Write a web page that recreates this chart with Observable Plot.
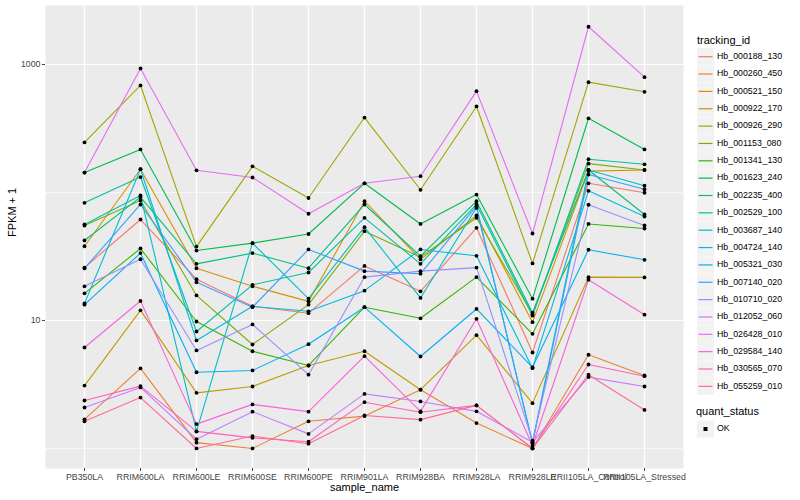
<!DOCTYPE html>
<html>
<head>
<meta charset="utf-8">
<script src="https://cdn.jsdelivr.net/npm/d3@7"></script>
<script src="https://cdn.jsdelivr.net/npm/@observablehq/plot@0.6"></script>
<style>
  body { margin: 0; background: #ffffff; font-family: "Liberation Sans", Arial, Helvetica, sans-serif; }
  #wrap { position: relative; width: 800px; height: 500px; overflow: hidden; }
  #legend { position: absolute; left: 0; top: 0; }
</style>
</head>
<body>
<div id="wrap"><div id="chart"></div><svg id="legend" width="800" height="500"></svg></div>
<script>
// ---- data ----
const samples = ["PB350LA", "RRIM600LA", "RRIM600LE", "RRIM600SE", "RRIM600PE", "RRIM901LA",
  "RRIM928BA", "RRIM928LA", "RRIM928LE", "RRII105LA_Control", "RRII105LA_Stressed"];

const trackingIds = ["Hb_000188_130", "Hb_000260_450", "Hb_000521_150", "Hb_000922_170", "Hb_000926_290",
  "Hb_001153_080", "Hb_001341_130", "Hb_001623_240", "Hb_002235_400", "Hb_002529_100",
  "Hb_003687_140", "Hb_004724_140", "Hb_005321_030", "Hb_007140_020", "Hb_010710_020",
  "Hb_012052_060", "Hb_026428_010", "Hb_029584_140", "Hb_030565_070", "Hb_055259_010"];

const hueColors = ["#F8766D", "#EA8331", "#D89000", "#C09B00", "#A3A500", "#7CAE00", "#39B600", "#00BB4E",
  "#00BF7D", "#00C1A3", "#00BFC4", "#00BAE0", "#00B0F6", "#35A2FF", "#9590FF", "#C77CFF",
  "#E76BF3", "#FA62DB", "#FF62BC", "#FF6C91"];

// FPKM + 1 per sample (same order as samples)
const Hb_000188_130 = [25.9, 61.5, 21.0, 12.9, 11.4, 26.7, 16.9, 53.0, 5.62, 118, 99.5];
const Hb_000260_450 = [1.69, 4.22, 1.11, 1.00, 1.63, 1.79, 2.88, 1.58, 1.00, 5.40, 3.72];
const Hb_000521_150 = [38.0, 152, 25.6, 18.5, 14.1, 85.5, 30.0, 66.1, 9.7, 147, 150];
const Hb_000922_170 = [3.10, 12.0, 2.72, 3.05, 4.45, 5.75, 2.88, 7.68, 2.26, 21.8, 21.7];
const Hb_000926_290 = [246, 686, 37.8, 160, 90.6, 385, 105, 470, 27.9, 728, 612];
const Hb_001153_080 = [55.2, 86.6, 15.7, 6.49, 13.3, 49.9, 31.3, 63.4, 11.2, 168, 150];
const Hb_001341_130 = [16.3, 36.5, 9.82, 5.75, 4.45, 12.7, 10.4, 21.8, 7.87, 56.8, 52.3];
const Hb_001623_240 = [143, 217, 35.2, 40.2, 47.4, 118, 56.8, 96.4, 14.8, 380, 217];
const Hb_002235_400 = [42.2, 91.9, 27.7, 33.6, 25.6, 80.6, 31.8, 85.5, 11.5, 150, 67.3];
const Hb_002529_100 = [83.1, 132, 8.20, 19.0, 23.7, 63.4, 27.7, 80.6, 10.9, 182, 166];
const Hb_003687_140 = [56.2, 94.8, 1.36, 40.2, 14.8, 53.6, 15.0, 75.9, 1.11, 150, 113];
const Hb_004724_140 = [13.6, 152, 6.98, 12.9, 11.8, 17.1, 35.9, 32.0, 4.24, 103, 64.9];
const Hb_005321_030 = [13.3, 33.6, 3.94, 4.07, 6.53, 12.7, 5.23, 12.3, 4.31, 35.7, 29.8];
const Hb_007140_020 = [25.5, 80.6, 19.9, 12.7, 35.9, 24.3, 23.2, 78.2, 1.09, 138, 106];
const Hb_010710_020 = [18.5, 30.1, 5.83, 9.31, 3.77, 21.8, 24.3, 25.9, 1.15, 80.2, 55.2];
const Hb_012052_060 = [2.09, 3.00, 1.18, 1.94, 1.30, 2.67, 2.33, 1.95, 1.12, 3.61, 3.05];
const Hb_026428_010 = [143, 931, 149, 131, 68.2, 118, 134, 619, 47.8, 1972, 796];
const Hb_029584_140 = [6.15, 14.2, 1.55, 2.21, 1.94, 5.26, 1.95, 10.3, 1.05, 20.8, 11.1];
const Hb_030565_070 = [2.37, 3.07, 1.36, 1.21, 1.13, 2.30, 1.92, 2.17, 1.00, 4.53, 3.67];
const Hb_055259_010 = [1.63, 2.50, 1.00, 1.25, 1.09, 1.81, 1.68, 2.17, 1.00, 3.77, 2.00];

const seriesValues = [Hb_000188_130, Hb_000260_450, Hb_000521_150, Hb_000922_170, Hb_000926_290,
  Hb_001153_080, Hb_001341_130, Hb_001623_240, Hb_002235_400, Hb_002529_100,
  Hb_003687_140, Hb_004724_140, Hb_005321_030, Hb_007140_020, Hb_010710_020,
  Hb_012052_060, Hb_026428_010, Hb_029584_140, Hb_030565_070, Hb_055259_010];

const majorBreaks = [10, 1000];
const minorBreaks = [1, 100];
const quantStatus = ["OK"];

// ---- table ----
const rows = trackingIds.flatMap((id, i) =>
  seriesValues[i].map((v, j) => ({ id, sample: samples[j], value: v, status: quantStatus[0] })));

const FONT = "Liberation Sans, Arial, Helvetica, sans-serif";

const chart = Plot.plot({
  width: 800,
  height: 500,
  marginLeft: 45,
  marginRight: 117,
  marginTop: 5,
  marginBottom: 32,
  style: { fontFamily: FONT, background: "transparent", overflow: "visible" },
  x: { type: "point", domain: samples, padding: 0.6, label: null },
  y: { type: "log", domain: [Math.pow(10, -0.1565), Math.pow(10, 3.461)], label: null },
  color: { domain: trackingIds, range: hueColors },
  marks: [
    Plot.frame({ fill: "#EBEBEB", stroke: "none" }),
    Plot.ruleY(minorBreaks, { stroke: "#ffffff", strokeWidth: 0.6 }),
    Plot.ruleY(majorBreaks, { stroke: "#ffffff", strokeWidth: 1.2 }),
    Plot.gridX({ stroke: "#ffffff", strokeOpacity: 1, strokeWidth: 1.2 }),
    Plot.line(rows, { x: "sample", y: "value", z: "id", stroke: "id", strokeWidth: 1.1 }),
    Plot.dot(rows, { x: "sample", y: "value", fill: "#000000", stroke: "none", r: 1.9 }),
    Plot.axisY({ ticks: majorBreaks, tickFormat: d => String(d), tickSize: 3, tickPadding: 2,
      fontSize: 8.8, color: "#444444", label: null }),
    Plot.axisX({ tickSize: 3, tickPadding: 2, fontSize: 8.8, color: "#444444", label: null }),
    Plot.text(["FPKM + 1"], { frameAnchor: "left", dx: -33, rotate: -90, text: d => d,
      fontSize: 11, fill: "#000000" }),
    Plot.text(["sample_name"], { frameAnchor: "bottom", dy: 22, text: d => d,
      fontSize: 11, fill: "#000000" })
  ]
});
document.getElementById("chart").appendChild(chart);

// ---- legend (right side) ----
const lg = d3.select("#legend").style("font-family", FONT);
const keyX = 697, keyW = 17, firstY = 56.7, stepY = 17.35;
lg.append("text").attr("x", keyX).attr("y", 40.7).attr("dominant-baseline", "middle")
  .attr("font-size", 11).attr("fill", "#000").text("tracking_id");
trackingIds.forEach((id, i) => {
  const cy = firstY + i * stepY;
  lg.append("rect").attr("x", keyX).attr("y", cy - keyW / 2).attr("width", keyW).attr("height", keyW)
    .attr("fill", "#F2F2F2");
  lg.append("line").attr("x1", keyX + 1.5).attr("x2", keyX + keyW - 1.5).attr("y1", cy).attr("y2", cy)
    .attr("stroke", hueColors[i]).attr("stroke-width", 1.2);
  lg.append("text").attr("x", keyX + 20).attr("y", cy).attr("dominant-baseline", "middle")
    .attr("font-size", 8.8).attr("fill", "#000").text(id);
});
lg.append("text").attr("x", keyX - 1).attr("y", 412).attr("dominant-baseline", "middle")
  .attr("font-size", 11).attr("fill", "#000").text("quant_status");
quantStatus.forEach((s, i) => {
  const cy = 429 + i * stepY;
  lg.append("rect").attr("x", keyX).attr("y", cy - keyW / 2).attr("width", keyW).attr("height", keyW)
    .attr("fill", "#F2F2F2");
  lg.append("rect").attr("x", keyX + keyW / 2 - 2).attr("y", cy - 2).attr("width", 4).attr("height", 4)
    .attr("fill", "#000");
  lg.append("text").attr("x", keyX + 20).attr("y", cy).attr("dominant-baseline", "middle")
    .attr("font-size", 8.8).attr("fill", "#000").text(s);
});
</script>
</body>
</html>
